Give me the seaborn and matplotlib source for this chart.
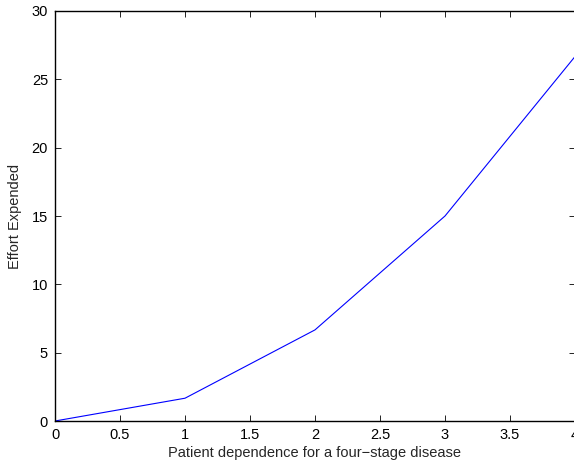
import matplotlib
matplotlib.use("Agg")
import matplotlib.pyplot as plt
import seaborn as sns
import pandas as pd

# data
stage = [0, 1, 2, 3, 4]
effort = [0, 1.667, 6.667, 15.0, 26.667]

x_ticks = [0, 0.5, 1, 1.5, 2, 2.5, 3, 3.5, 4]
x_tick_labels = ["0", "0.5", "1", "1.5", "2", "2.5", "3", "3.5", "4"]
y_ticks = [0, 5, 10, 15, 20, 25, 30]

df = pd.DataFrame({"stage": stage, "effort": effort})

sns.set_style("ticks")
plt.rcParams["font.family"] = ["Liberation Sans", "DejaVu Sans"]

fig = plt.figure(figsize=(5.74, 4.65), dpi=100)
ax = fig.add_axes([55 / 574, 44 / 465, 520 / 574, 410 / 465])

sns.lineplot(data=df, x="stage", y="effort", color="#0000ff", linewidth=0.8, ax=ax)

ax.set_xlim(0, 4)
ax.set_ylim(0, 30)
ax.set_xticks(x_ticks)
ax.set_xticklabels(x_tick_labels)
ax.set_yticks(y_ticks)
ax.tick_params(direction="in", top=True, right=True, length=4, width=0.6,
               labelsize=10.5, colors="black", pad=5)
for s in ax.spines.values():
    s.set_color("black")
    s.set_linewidth(1.0)

ax.set_xlabel("Patient dependence for a four\u2212stage disease", fontsize=10.5, labelpad=3)
ax.set_ylabel("Effort Expended", fontsize=10.5, labelpad=7)

fig.savefig("out.png", dpi=100)
